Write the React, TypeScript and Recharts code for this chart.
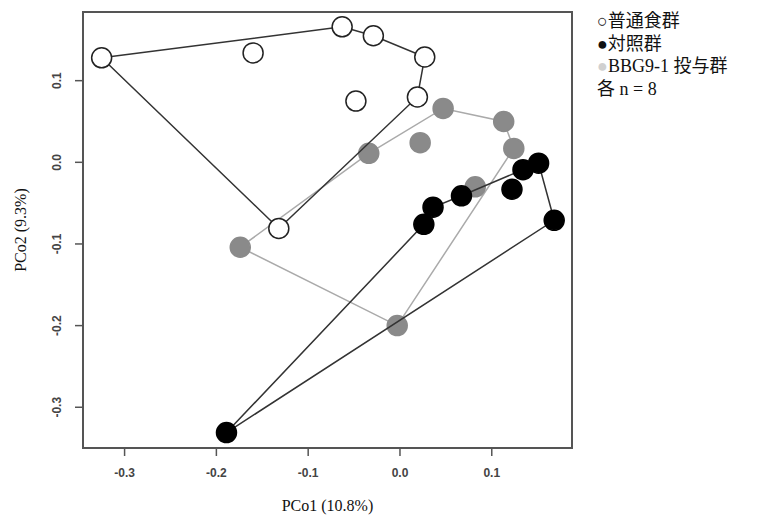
import React from 'react'
import { ReferenceArea, Scatter, ScatterChart, XAxis, YAxis } from 'recharts'

// PCoA coordinates (8 per group)
const normalX = [-0.325, -0.16, -0.063, -0.029, 0.027, -0.048, 0.019, -0.132]
const normalY = [0.128, 0.134, 0.166, 0.155, 0.129, 0.075, 0.08, -0.081]
const normalHull = [0, 2, 3, 4, 6, 7, 0]

const controlX = [0.151, 0.134, 0.122, 0.168, 0.067, 0.036, 0.026, -0.189]
const controlY = [-0.001, -0.009, -0.033, -0.071, -0.041, -0.055, -0.076, -0.331]
const controlHull = [7, 6, 5, 4, 1, 0, 3, 7]

const bbgX = [0.047, 0.113, 0.124, -0.034, 0.022, 0.082, -0.174, -0.003]
const bbgY = [0.066, 0.05, 0.017, 0.011, 0.024, -0.03, -0.104, -0.2]
const bbgHull = [6, 3, 0, 1, 2, 7, 6]

const xTicks = [-0.3, -0.2, -0.1, 0.0, 0.1]
const yTicks = [-0.3, -0.2, -0.1, 0.0, 0.1]
const xDomain: [number, number] = [-0.3453, 0.1874]
const yDomain: [number, number] = [-0.3499, 0.1841]

const legendLines = ['○普通食群', '●対照群', 'BBG9-1 投与群', '各 n = 8']

const toPoints = (xs: number[], ys: number[]) => xs.map((x, i) => ({ x, y: ys[i] }))
const toHull = (xs: number[], ys: number[], order: number[]) =>
  order.map((i) => ({ x: xs[i], y: ys[i] }))

const normalPts = toPoints(normalX, normalY)
const controlPts = toPoints(controlX, controlY)
const bbgPts = toPoints(bbgX, bbgY)

const fmt = (v: number) => v.toFixed(1)
const tickFont = 'Liberation Sans, Arial, sans-serif'

const dot = (fill: string, stroke: string) => (p: any) => (
  <circle cx={p.cx} cy={p.cy} r={10} fill={fill} stroke={stroke} strokeWidth={1.5} />
)
const noDot = () => <g />

const YTick = ({ x, y, payload }: any) => (
  <text
    x={x - 16}
    y={y}
    transform={`rotate(-90, ${x - 16}, ${y})`}
    textAnchor="middle"
    dy="0.35em"
    fill="#444"
    fontSize={12}
    fontWeight="bold"
    fontFamily={tickFont}
  >
    {fmt(payload.value)}
  </text>
)

export default function App() {
  return (
    <div style={{ position: 'absolute', left: 0, top: 0, width: 783, height: 521, background: '#fff' }}>
      <ScatterChart width={783} height={521} margin={{ top: 12, right: 211, bottom: 0, left: 0 }}>
        <XAxis
          type="number"
          dataKey="x"
          domain={xDomain}
          ticks={xTicks}
          tickFormatter={fmt}
          allowDataOverflow
          axisLine={false}
          tickLine={{ stroke: '#555', strokeWidth: 1.5 }}
          tickSize={8}
          tickMargin={12}
          height={73}
          tick={{ fill: '#444', fontSize: 12, fontWeight: 'bold', fontFamily: tickFont }}
          label={{
            value: 'PCo1 (10.8%)',
            position: 'insideBottom',
            offset: 10,
            style: { fill: '#111', fontSize: 16, fontFamily: 'Liberation Serif, serif' },
          }}
        />
        <YAxis
          type="number"
          dataKey="y"
          domain={yDomain}
          ticks={yTicks}
          allowDataOverflow
          axisLine={false}
          tickLine={{ stroke: '#555', strokeWidth: 1.5 }}
          tickSize={8}
          width={83}
          tick={<YTick />}
          label={{
            value: 'PCo2 (9.3%)',
            angle: -90,
            position: 'insideLeft',
            offset: 20,
            style: { textAnchor: 'middle', fill: '#111', fontSize: 16, fontFamily: 'Liberation Serif, serif' },
          }}
        />
        <ReferenceArea
          x1={xDomain[0]}
          x2={xDomain[1]}
          y1={yDomain[0]}
          y2={yDomain[1]}
          fill="none"
          stroke="#555"
          strokeWidth={2}
          ifOverflow="visible"
        />
        <Scatter
          data={toHull(bbgX, bbgY, bbgHull)}
          line={{ stroke: '#aaa', strokeWidth: 1.5 }}
          shape={noDot}
          isAnimationActive={false}
        />
        <Scatter data={bbgPts} shape={dot('#8a8a8a', '#8a8a8a')} isAnimationActive={false} />
        <Scatter
          data={toHull(normalX, normalY, normalHull)}
          line={{ stroke: '#333', strokeWidth: 1.5 }}
          shape={noDot}
          isAnimationActive={false}
        />
        <Scatter
          data={toHull(controlX, controlY, controlHull)}
          line={{ stroke: '#333', strokeWidth: 1.5 }}
          shape={noDot}
          isAnimationActive={false}
        />
        <Scatter data={normalPts} shape={dot('#fff', '#222')} isAnimationActive={false} />
        <Scatter data={controlPts} shape={dot('#000', '#000')} isAnimationActive={false} />
      </ScatterChart>
      <div
        style={{
          position: 'absolute',
          left: 597,
          top: 10,
          fontFamily: '"Liberation Serif", "Noto Sans CJK JP", serif',
          fontSize: 18,
          lineHeight: '22.5px',
          color: '#111',
        }}
      >
        {legendLines.map((t, i) => (
          <div key={i}>
            {i === 2 && <span style={{ color: '#d0d0d0' }}>●</span>}
            {t}
          </div>
        ))}
      </div>
    </div>
  )
}
